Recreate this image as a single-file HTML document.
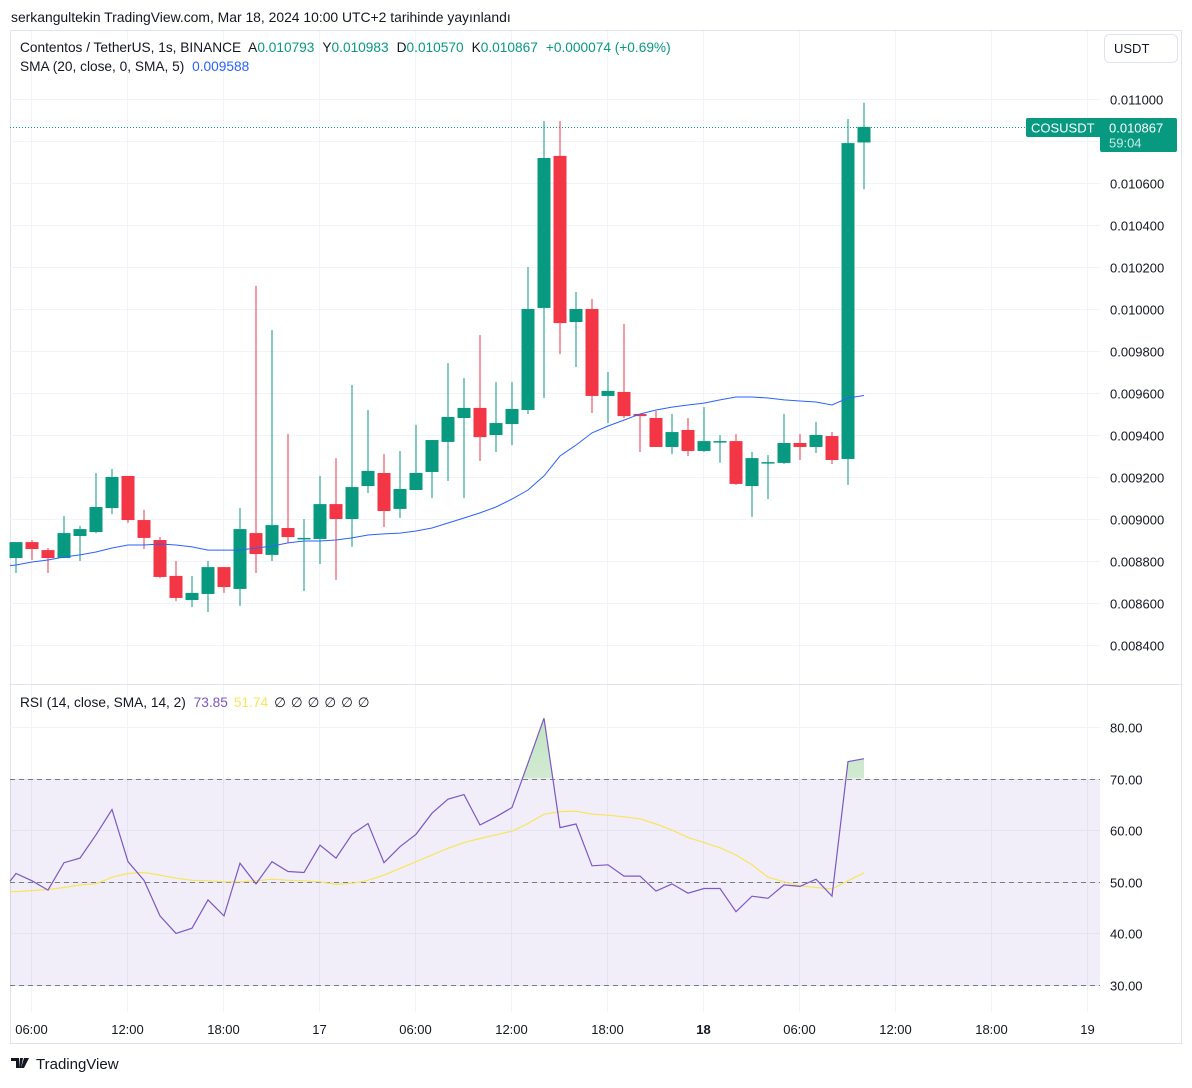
<!DOCTYPE html>
<html><head><meta charset="utf-8"><style>
body{margin:0;background:#fff;font-family:"Liberation Sans",sans-serif;}
svg text{font-family:"Liberation Sans",sans-serif;}
</style></head><body>
<svg id="c" width="1192" height="1083" xmlns="http://www.w3.org/2000/svg">
<rect x="0" y="0" width="1192" height="1083" fill="#fff"/>
<text x="11" y="22" font-size="13.9" fill="#131722">serkangultekin TradingView.com, Mar 18, 2024 10:00 UTC+2 tarihinde yayınlandı</text>
<rect x="10.5" y="30.5" width="1171" height="1013" fill="none" stroke="#e0e3eb"/>
<g id="grid"></g>
<rect x="10" y="779" width="1090" height="207" fill="#7e57c2" fill-opacity="0.1"/>
<line x1="10" y1="684.5" x2="1181" y2="684.5" stroke="#e0e3eb"/>
<g id="marks"></g>
<g id="axes"></g>
<text x="20" y="52" font-size="13.7" fill="#131722">Contentos / TetherUS, 1s, BINANCE <tspan dx="4">A</tspan><tspan fill="#089981">0.010793</tspan><tspan dx="8">Y</tspan><tspan fill="#089981">0.010983</tspan><tspan dx="8">D</tspan><tspan fill="#089981">0.010570</tspan><tspan dx="8">K</tspan><tspan fill="#089981">0.010867</tspan><tspan dx="8" fill="#089981">+0.000074 (+0.69%)</tspan></text>
<text x="20" y="71" font-size="13.7" fill="#131722">SMA (20, close, 0, SMA, 5) <tspan dx="4" fill="#2962ff">0.009588</tspan></text>
<text x="20" y="707" font-size="13.7" fill="#131722">RSI (14, close, SMA, 14, 2) <tspan dx="4" fill="#7e57c2">73.85</tspan><tspan dx="6" fill="#f7e55a">51.74</tspan><tspan dx="6" fill="#131722" letter-spacing="0.5">∅ ∅ ∅ ∅ ∅ ∅</tspan></text>
<rect x="1104.5" y="34.5" width="73" height="28" rx="5" fill="#fff" stroke="#e0e3eb"/>
<text x="1114" y="53" font-size="13" fill="#131722">USDT</text>
<g>
<path d="M11 1058h8v10h-3v-7h-5z M20 1058h3l-2 10h-2z M24 1058h5l-5 10h-3z" fill="#131722"/>
<text x="36" y="1069" font-size="15" fill="#131722">TradingView</text>
</g>
</svg>
<script>
const categories=["16 05:00","06:00","07:00","08:00","09:00","10:00","11:00","12:00","13:00","14:00","15:00","16:00","17:00","18:00","19:00","20:00","21:00","22:00","23:00","17 00:00","01:00","02:00","03:00","04:00","05:00","06:00","07:00","08:00","09:00","10:00","11:00","12:00","13:00","14:00","15:00","16:00","17:00","18:00","19:00","20:00","21:00","22:00","23:00","18 00:00","01:00","02:00","03:00","04:00","05:00","06:00","07:00","08:00","09:00","10:00"];
const opens=[8814,8890,8852,8814,8919,8938,9052,9205,8995,8900,8729,8614,8643,8771,8667,8933,8829,8957,8905,8905,9071,9000,9157,9219,9048,9138,9224,9367,9481,9529,9400,9452,9519,10005,10729,9938,10000,9586,9605,9500,9481,9343,9424,9324,9367,9371,9157,9267,9267,9362,9343,9395,9286,10793];
const highs=[8890,8900,8862,9014,8967,9219,9238,9205,9043,8914,8800,8729,8800,8771,9052,10110,9900,9405,9000,9205,9290,9638,9519,9309,9324,9448,9376,9743,9671,9876,9652,9652,10200,10895,10895,10081,10048,9700,9929,9500,9514,9500,9481,9533,9400,9405,9319,9305,9500,9405,9462,9414,10905,10983];
const lows=[8743,8805,8743,8814,8800,8933,9024,8981,8857,8719,8609,8581,8557,8648,8586,8743,8800,8886,8657,8786,8709,8867,9124,8962,9005,9138,9100,9181,9100,9276,9319,9352,9500,9576,9786,9724,9505,9457,9481,9319,9343,9309,9300,9319,9267,9162,9010,9095,9262,9281,9314,9262,9162,10570];
const closes=[8890,8857,8814,8933,8952,9057,9200,8995,8910,8724,8624,8648,8771,8676,8952,8833,8971,8914,8910,9071,9000,9152,9229,9038,9143,9219,9376,9486,9529,9390,9457,9524,10000,10719,9933,10000,9586,9610,9490,9490,9343,9414,9324,9371,9371,9167,9290,9271,9362,9343,9400,9281,10790,10867];
const smaValues=[8781,8795,8805,8819,8829,8843,8862,8876,8876,8881,8876,8867,8852,8852,8852,8862,8871,8886,8895,8895,8900,8910,8924,8929,8933,8943,8957,8981,9005,9029,9057,9095,9138,9205,9300,9352,9410,9443,9471,9500,9519,9533,9543,9552,9567,9581,9581,9576,9567,9562,9557,9543,9576,9588];
const rsiValues=[51.6,50.2,48.4,53.7,54.6,59.1,64.0,53.9,50.3,43.4,40.0,41.0,46.5,43.4,53.6,49.6,53.9,52.0,51.8,57.1,54.6,59.2,61.3,53.7,56.8,59.2,63.3,66.0,66.9,61.0,62.6,64.4,73.0,81.7,60.5,61.2,53.1,53.3,51.1,51.1,48.2,49.6,47.8,48.7,48.7,44.2,47.2,46.8,49.4,49.1,50.5,47.2,73.3,73.85];
const rsiMaValues=[48.1,48.3,48.5,48.9,49.4,49.6,50.9,51.6,51.8,51.3,50.7,50.3,50.2,50.0,50.0,50.2,50.5,50.3,50.2,50.0,49.5,49.7,50.3,51.3,52.6,53.9,55.2,56.5,57.6,58.4,59.1,59.8,61.3,63.1,63.6,63.7,63.1,62.9,62.6,62.2,61.2,60.0,58.6,57.6,56.6,55.2,53.3,50.9,50.0,49.2,48.9,48.6,50.2,51.74];
const priceTicks=[11000,10800,10600,10400,10200,10000,9800,9600,9400,9200,9000,8800,8600,8400];
const rsiTicks=[80,70,60,50,40,30];
const timeTicks=[["06:00",1],["12:00",7],["18:00",13],["17",19],["06:00",25],["12:00",31],["18:00",37],["18",43],["06:00",49],["12:00",55],["18:00",61],["19",67]];

const NS="http://www.w3.org/2000/svg";
const xOf=i=>16+16*i;
const yP=v=>99+(11000-v)/200*42;
const yR=v=>727+(80-v)*5.16;
function mk(tag,attrs,parent){const e=document.createElementNS(NS,tag);for(const k in attrs)e.setAttribute(k,attrs[k]);parent.appendChild(e);return e;}
const grid=document.getElementById('grid'),marks=document.getElementById('marks'),axes=document.getElementById('axes');

priceTicks.forEach(t=>{const y=Math.round(yP(t))+0.5;
 const l=mk('line',{x1:10,x2:1100,y1:y,y2:y,stroke:'#f0f3fa'},grid);
 
 
 const tx=mk('text',{x:1110,y:y+5,'font-size':13,fill:'#131722'},axes);tx.textContent=(t/1e6).toFixed(6);
 
 
});
rsiTicks.forEach(t=>{const y=Math.round(yR(t))+0.5;
 const l=mk('line',{x1:10,x2:1100,y1:y,y2:y,stroke:'#f0f3fa'},grid);
 
 
 const tx=mk('text',{x:1110,y:y+5,'font-size':13,fill:'#131722'},axes);tx.textContent=t.toFixed(2);
 
 
});
timeTicks.forEach(([lab,i])=>{const x=xOf(i)-0.5;
 const l=mk('line',{x1:x,x2:x,y1:31,y2:1012,stroke:'#f0f3fa'},grid);
 
 
 const tx=mk('text',{x:x,y:1034,'font-size':13,fill:'#131722','text-anchor':'middle','font-weight':(lab==='18'?'bold':'normal')},axes);tx.textContent=lab;
 
 
});
[70,50,30].forEach(v=>{const y=Math.round(yR(v))+0.5;
 const l=mk('line',{x1:10,x2:1100,y1:y,y2:y,stroke:'#787b86','stroke-dasharray':'5,4'},marks);
 
 
});
const yc=Math.round(yP(closes[closes.length-1]))+0.5;
const pl=mk('line',{x1:10,x2:1026,y1:yc,y2:yc,stroke:'#089981','stroke-dasharray':'1,2'},marks);



closes.forEach((c,i)=>{const o=opens[i],up=c>=o,col=up?'#089981':'#f23645',x=xOf(i);
 const g=mk('g',{},marks);
 
 
 mk('line',{x1:x,x2:x,y1:yP(highs[i]),y2:yP(lows[i]),stroke:col,'stroke-width':1},g);
 const t=Math.min(yP(o),yP(c)),h=Math.max(1.5,Math.abs(yP(o)-yP(c)));
 mk('rect',{x:x-6.5,y:t,width:13,height:h,fill:col},g);
});
const smaPath=mk('polyline',{points:'10,'+yP(smaValues[0]-3).toFixed(1)+' '+smaValues.map((v,i)=>xOf(i)+','+yP(v).toFixed(1)).join(' '),fill:'none',stroke:'#2962ff','stroke-width':1},marks);



const defs=mk('defs',{},marks);
const cp=mk('clipPath',{id:'ob'},defs);mk('rect',{x:10,y:690,width:1090,height:yR(70)-690},cp);
const gr=mk('linearGradient',{id:'gg',x1:0,y1:0,x2:0,y2:1},defs);
mk('stop',{offset:'0','stop-color':'#4caf50','stop-opacity':0.35},gr);mk('stop',{offset:'1','stop-color':'#4caf50','stop-opacity':0.02},gr);
const y70=yR(70);
const ob=mk('polygon',{points:xOf(0)+','+y70+' '+rsiValues.map((v,i)=>xOf(i)+','+yR(v).toFixed(1)).join(' ')+' '+xOf(rsiValues.length-1)+','+y70,fill:'url(#gg)','clip-path':'url(#ob)'},marks);


const rma=mk('polyline',{points:'10,'+yR(rsiMaValues[0]).toFixed(1)+' '+rsiMaValues.map((v,i)=>xOf(i)+','+yR(v).toFixed(1)).join(' '),fill:'none',stroke:'#f7e55a','stroke-width':1.2},marks);


const rl=mk('polyline',{points:'10,'+yR(rsiValues[0]-1.5).toFixed(1)+' '+rsiValues.map((v,i)=>xOf(i)+','+yR(v).toFixed(1)).join(' '),fill:'none',stroke:'#7e57c2','stroke-width':1.2},marks);



const lab=mk('g',{},axes);


mk('rect',{x:1026,y:yc-9.5,width:78,height:19,rx:2,fill:'#089981'},lab);
mk('rect',{x:1100,y:yc-9.5,width:77,height:34,rx:2,fill:'#089981'},lab);
let t1=mk('text',{x:1031,y:yc+5,'font-size':13,fill:'#fff'},lab);t1.textContent='COSUSDT';
let t2=mk('text',{x:1109,y:yc+5,'font-size':13,fill:'#fff'},lab);t2.textContent=(closes[closes.length-1]/1e6).toFixed(6);
let t3=mk('text',{x:1109,y:yc+20,'font-size':13,fill:'#c8ece5'},lab);t3.textContent='59:04';
</script>
</body></html>
